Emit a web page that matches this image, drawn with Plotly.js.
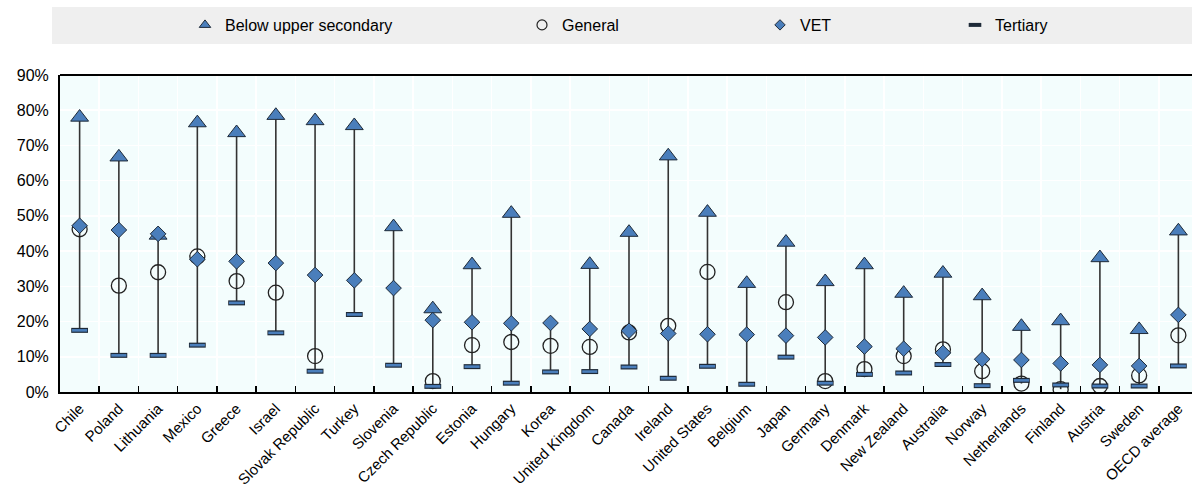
<!DOCTYPE html>
<html>
<head>
<meta charset="utf-8">
<script src="https://cdn.plot.ly/plotly-3.0.1.min.js"></script>
<style>
html,body{margin:0;padding:0;overflow:hidden;background:#fff;}
#chart{width:1198px;height:488px;}
</style>
</head>
<body>
<div id="chart"></div>
<script>
const categories = ["Chile","Poland","Lithuania","Mexico","Greece","Israel","Slovak Republic","Turkey","Slovenia","Czech Republic","Estonia","Hungary","Korea","United Kingdom","Canada","Ireland","United States","Belgium","Japan","Germany","Denmark","New Zealand","Australia","Norway","Netherlands","Finland","Austria","Sweden","OECD average"];
const belowUpperSecondary = [78.0,66.7,44.5,76.4,73.6,78.5,77.0,75.6,46.9,23.6,36.1,50.7,null,36.2,45.3,67.0,51.0,30.8,42.5,31.3,36.1,28.0,33.7,27.3,18.6,20.2,38.1,17.7,45.7];
const general = [46.2,30.2,34.0,38.5,31.5,28.2,10.2,null,null,3.1,13.3,14.2,13.1,12.8,16.9,18.8,34.1,null,25.5,3.1,6.5,10.2,12.1,5.9,2.4,0.8,1.7,4.7,16.1];
const vet = [47.2,46.0,44.9,37.7,37.1,36.6,33.2,31.7,29.5,20.4,19.8,19.5,19.6,17.9,17.4,16.6,16.4,16.3,16.0,15.5,12.9,12.3,11.1,9.3,9.1,8.1,7.7,7.4,21.9];
const tertiary = [17.5,10.4,10.4,13.3,25.3,16.8,5.9,22.0,7.6,1.6,7.2,2.5,5.7,5.8,7.1,3.9,7.3,2.2,9.9,2.5,5.0,5.4,7.8,1.8,3.3,2.0,1.7,1.7,7.4];
const seriesNames = ["Below upper secondary","General","VET","Tertiary"];
const tickValues = [0,10,20,30,40,50,60,70,80,90];

const FONT = "'Liberation Sans Narrow','Arial Narrow','Liberation Sans',Arial,sans-serif";
const BLUE = "#4a7ebb";
const DARK = "#1e2a38";

// high-low lines from the data
const hlX = [], hlY = [];
categories.forEach((c, i) => {
  const vals = [belowUpperSecondary[i], general[i], vet[i], tertiary[i]].filter(v => v !== null);
  hlX.push(c, c, null);
  hlY.push(Math.min(...vals), Math.max(...vals), null);
});

const traces = [
  {x: hlX, y: hlY, mode: 'lines', line: {color: '#333333', width: 1.6}, showlegend: false, hoverinfo: 'skip'},
  {x: categories, y: belowUpperSecondary, name: seriesNames[0], mode: 'markers', showlegend: false,
   marker: {symbol: 'triangle-up', size: 15.5, color: BLUE, line: {color: DARK, width: 1}}},
  {x: categories, y: general, name: seriesNames[1], mode: 'markers', showlegend: false,
   marker: {symbol: 'circle-open', size: 15, color: '#222222', line: {width: 1.3}}},
  {x: categories, y: vet, name: seriesNames[2], mode: 'markers', showlegend: false,
   marker: {symbol: 'diamond', size: 12, color: BLUE, line: {color: DARK, width: 1}}},
  {x: categories, y: tertiary, name: seriesNames[3], mode: 'markers', showlegend: false,
   marker: {symbol: 'line-ew', size: 12, color: DARK, line: {color: DARK, width: 5}}},
  {x: categories, y: tertiary, name: seriesNames[3], mode: 'markers', showlegend: false, hoverinfo: 'skip',
   marker: {symbol: 'line-ew', size: 10.8, color: BLUE, line: {color: BLUE, width: 2.6}}},
  // legend entries
  {x: [null], y: [null], name: seriesNames[0], mode: 'markers', legend: 'legend',
   marker: {symbol: 'triangle-up', size: 10, color: BLUE, line: {color: DARK, width: 1}}},
  {x: [null], y: [null], name: seriesNames[1], mode: 'markers', legend: 'legend2',
   marker: {symbol: 'circle-open', size: 10, color: '#222222', line: {width: 1.2}}},
  {x: [null], y: [null], name: seriesNames[2], mode: 'markers', legend: 'legend3',
   marker: {symbol: 'diamond', size: 8, color: BLUE, line: {color: DARK, width: 1}}},
  {x: [null], y: [null], name: seriesNames[3], mode: 'markers', legend: 'legend4',
   marker: {symbol: 'line-ew', size: 9, color: DARK, line: {color: DARK, width: 4}}}
];

const W = 1198, H = 488, ML = 60, MR = 0, MT = 75, MB = 96;
const PW = W - ML - MR, PH = H - MT - MB;
const px2x = p => (p - ML) / PW;
const py2y = p => (H - MB - p) / PH;

function leg(xpx) {
  return {orientation: 'h', x: px2x(xpx), xanchor: 'left', y: py2y(25), yanchor: 'middle',
    bgcolor: 'rgba(0,0,0,0)', font: {family: FONT, size: 16, color: '#000'}, itemwidth: 30,
    tracegroupgap: 0};
}

const layout = {
  width: W, height: H,
  margin: {l: ML, r: MR, t: MT, b: MB, pad: 0},
  paper_bgcolor: '#ffffff',
  plot_bgcolor: '#f3fdfd',
  font: {family: FONT, size: 15, color: '#222'},
  xaxis: {
    type: 'category', tickson: 'boundaries', showgrid: true, gridcolor: '#ffffff', gridwidth: 1.5,
    ticks: 'inside', ticklen: 6, tickcolor: '#000', tickwidth: 1.5,
    showline: true, linecolor: '#000', linewidth: 2, mirror: false,
    tickangle: -45, tickfont: {family: FONT, size: 15, color: '#000'},
    range: [-0.5, categories.length - 0.5], fixedrange: true, automargin: false
  },
  yaxis: {
    range: [0, 90], tickvals: tickValues, ticktext: tickValues.map(v => v + '%'),
    showgrid: true, gridcolor: '#ffffff', gridwidth: 1.5, zeroline: false,
    showline: true, linecolor: '#000', linewidth: 2, ticks: '',
    tickfont: {family: FONT, size: 16, color: '#000'}, ticklabelstandoff: 6, automargin: false
  },
  shapes: [
    {type: 'rect', xref: 'paper', yref: 'paper', x0: px2x(52), x1: 1.01, y0: py2y(44), y1: py2y(7),
     fillcolor: '#efefef', line: {width: 0}, layer: 'below'},
    {type: 'line', xref: 'paper', yref: 'paper', x0: 0, x1: 1, y0: 1, y1: 1, line: {color: '#000', width: 2}}
  ],
  legend: leg(185),
  legend2: leg(522),
  legend3: leg(760),
  legend4: leg(955),
  showlegend: true
};

Plotly.newPlot('chart', traces, layout, {displayModeBar: false, staticPlot: true});
</script>
</body>
</html>
